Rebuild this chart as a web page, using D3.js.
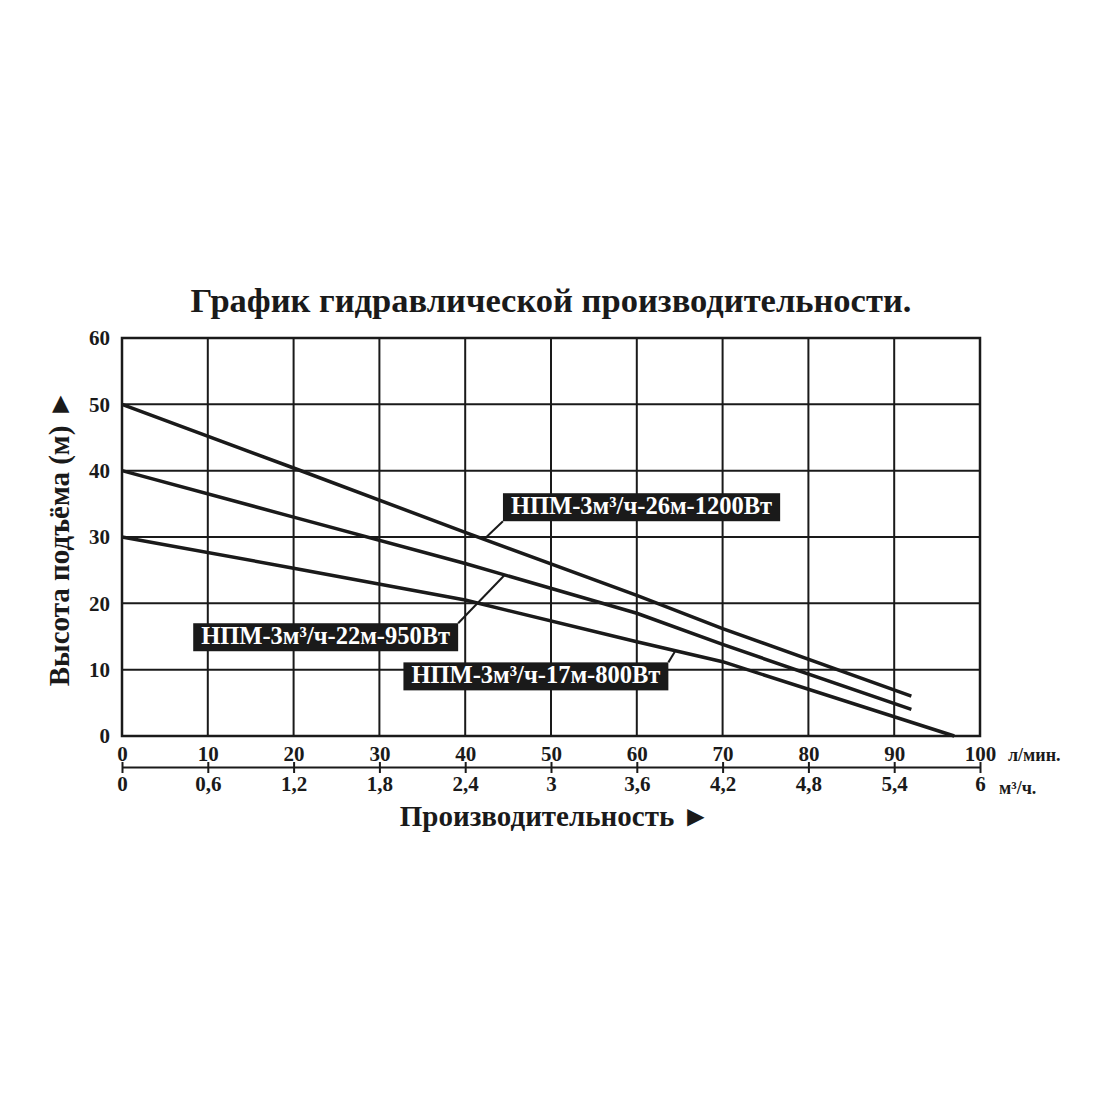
<!DOCTYPE html>
<html>
<head>
<meta charset="utf-8">
<script src="https://cdn.jsdelivr.net/npm/d3@7"></script>
<style>
  html, body { margin: 0; padding: 0; background: #fff; }
  text { font-family: "Liberation Serif", "Times New Roman", serif; font-weight: bold; fill: #1a1a1a; }
</style>
</head>
<body>
<div id="chart"></div>
<script>
// flow, l/min
let flowTicks = d3.range(0, 101, 10);
// same ticks in m3/h
let cubicTicks = ['0', '0,6', '1,2', '1,8', '2,4', '3', '3,6', '4,2', '4,8', '5,4', '6'];
let headTicks = d3.range(0, 61, 10);

let seriesNames = ['НПМ-3м³/ч-26м-1200Вт', 'НПМ-3м³/ч-22м-950Вт', 'НПМ-3м³/ч-17м-800Вт'];
let flow1200 = [0, 20, 40, 60, 70, 92];
let head1200 = [50, 40.4, 30.7, 21.2, 16.2, 6];
let flow950 = [0, 20, 40, 60, 70, 92];
let head950 = [40, 33, 26, 18.5, 13.8, 4];
let flow800 = [0, 20, 40, 60, 70, 97];
let head800 = [30, 25.3, 20.5, 14.2, 11.2, 0];

let width = 1100;
let height = 1100;
let margin = {left: 122, right: 120, top: 338, bottom: 364};

let svg = d3.select('#chart')
	.append('svg')
	.attr('width', width)
	.attr('height', height);

let x = d3.scaleLinear([0, 100], [margin.left, width - margin.right]);
let y = d3.scaleLinear([0, 60], [height - margin.bottom, margin.top]);

// title
svg.append('text')
	.attr('x', 551)
	.attr('y', 312)
	.attr('text-anchor', 'middle')
	.style('font-size', '34.5px')
	.text('График гидравлической производительности.');

// grid
let grid = svg.append('g').attr('stroke', '#1a1a1a').attr('stroke-width', 2);
grid.selectAll('.v').data(flowTicks).join('line')
	.attr('x1', d => x(d)).attr('x2', d => x(d))
	.attr('y1', y(0)).attr('y2', y(60));
grid.selectAll('.h').data(headTicks).join('line')
	.attr('x1', x(0)).attr('x2', x(100))
	.attr('y1', d => y(d)).attr('y2', d => y(d));
svg.append('rect')
	.attr('x', x(0)).attr('y', y(60))
	.attr('width', x(100) - x(0)).attr('height', y(0) - y(60))
	.attr('fill', 'none').attr('stroke', '#1a1a1a').attr('stroke-width', 2.5);

// y axis labels
let yAxis = d3.axisLeft(y).tickValues(headTicks).tickSize(0).tickPadding(12);
svg.append('g')
	.attr('transform', `translate(${x(0)},0)`)
	.call(yAxis)
	.call(g => g.select('.domain').remove())
	.selectAll('text').style('font-size', '21px').attr('fill', '#1a1a1a')
	.attr('font-family', null);

// top x labels (l/min)
let xAxisTop = d3.axisBottom(x).tickValues(flowTicks).tickSize(0).tickPadding(10);
svg.append('g')
	.attr('transform', `translate(0,${y(0)})`)
	.call(xAxisTop)
	.call(g => g.select('.domain').remove())
	.selectAll('text').style('font-size', '21px').attr('fill', '#1a1a1a')
	.attr('font-family', null);

// second scale (m3/h)
let axisY = 767;
let x2 = d3.scaleLinear([0, 6], [x(0), x(100)]);
let xAxisBottom = d3.axisBottom(x2)
	.tickValues(d3.range(0, 11).map(i => i * 0.6))
	.tickFormat((d, i) => cubicTicks[i])
	.tickSizeInner(5).tickSizeOuter(0).tickPadding(6);
let g2 = svg.append('g').attr('transform', `translate(0,${axisY})`).call(xAxisBottom);
g2.select('.domain').attr('stroke', '#1a1a1a').attr('stroke-width', 2);
g2.selectAll('.tick line').attr('stroke', '#1a1a1a').attr('stroke-width', 2).attr('y1', -5).attr('y2', 6);
g2.selectAll('text').style('font-size', '21px').attr('fill', '#1a1a1a').attr('font-family', null)
	.attr('y', 9);

// units
svg.append('text').attr('x', 1008).attr('y', 761).style('font-size', '18px').text('л/мин.');
svg.append('text').attr('x', 999).attr('y', 794).style('font-size', '18px').text('м³/ч.');

// axis titles
svg.append('text')
	.attr('x', 555).attr('y', 826)
	.attr('text-anchor', 'middle')
	.style('font-size', '29px')
	.text('Производительность ►');
svg.append('text')
	.attr('transform', 'translate(69,538) rotate(-90)')
	.attr('text-anchor', 'middle')
	.style('font-size', '29px')
	.text('Высота подъёма (м) ►');

// curves
let series = [
	{name: seriesNames[0], pts: d3.zip(flow1200, head1200)},
	{name: seriesNames[1], pts: d3.zip(flow950, head950)},
	{name: seriesNames[2], pts: d3.zip(flow800, head800)}
];
let line = d3.line().x(d => x(d[0])).y(d => y(d[1]));
svg.append('g').selectAll('path').data(series).join('path')
	.attr('d', d => line(d.pts))
	.attr('fill', 'none')
	.attr('stroke', '#1a1a1a')
	.attr('stroke-width', 3.5);

// labels: box top-left in data units, leader start corner, leader target flow
let labels = [
	{s: 0, bx: 44.4, by: 36.6, corner: 'bl', tx: 42.2},
	{s: 1, bx: 8.3, by: 17.0, corner: 'tr', tx: 44.6},
	{s: 2, bx: 32.8, by: 11.1, corner: 'tr', tx: 64.5}
];
function headAt(pts, f) {
	let i = d3.bisector(d => d[0]).left(pts, f);
	if (i <= 0) return pts[0][1];
	let a = pts[i - 1], b = pts[Math.min(i, pts.length - 1)];
	return a[1] + (b[1] - a[1]) * (f - a[0]) / (b[0] - a[0]);
}
let lg = svg.append('g');
labels.forEach(l => {
	let s = series[l.s];
	let t = lg.append('text')
		.attr('x', x(l.bx) + 8).attr('y', y(l.by) + 21)
		.style('font-size', '24.5px').style('fill', '#fff')
		.text(s.name);
	let w = t.node().getComputedTextLength() + 16;
	let bx = x(l.bx), by = y(l.by), bh = 28;
	lg.insert('rect', 'text')
		.attr('x', bx).attr('y', by).attr('width', w).attr('height', bh)
		.attr('fill', '#1a1a1a');
	let sx = l.corner === 'bl' ? bx : bx + w;
	let sy = l.corner === 'bl' ? by + bh : by;
	lg.append('line')
		.attr('x1', sx).attr('y1', sy)
		.attr('x2', x(l.tx)).attr('y2', y(headAt(s.pts, l.tx)))
		.attr('stroke', '#1a1a1a').attr('stroke-width', 2);
});
</script>
</body>
</html>
